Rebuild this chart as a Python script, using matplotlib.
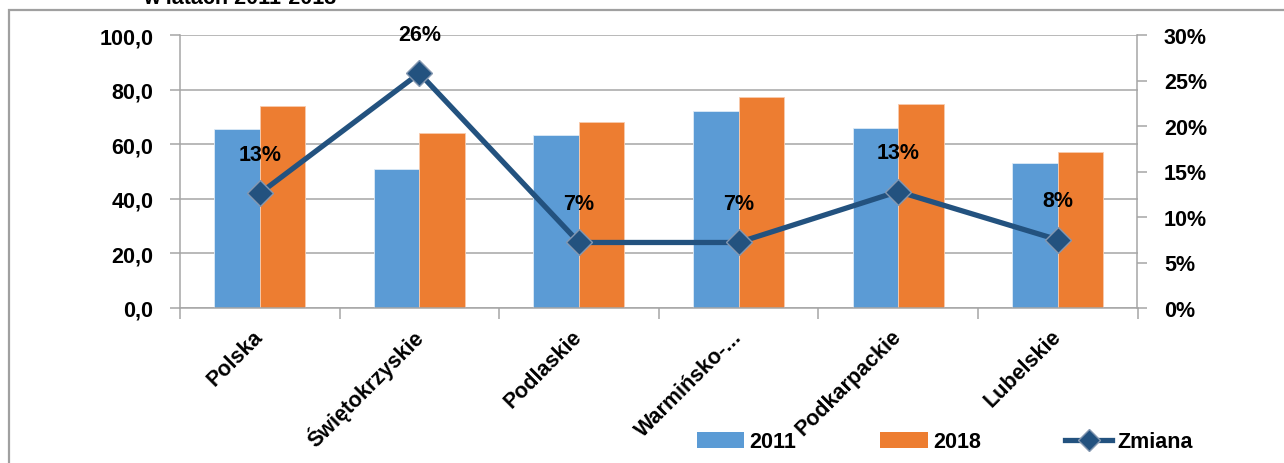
import numpy as np
import matplotlib
matplotlib.use("Agg")
import matplotlib.pyplot as plt
from matplotlib.lines import Line2D
from matplotlib.patches import Patch, Rectangle

regions = ["Polska", "Świętokrzyskie", "Podlaskie", "Warmińsko-...", "Podkarpackie", "Lubelskie"]
v2011 = [65.6, 50.9, 63.5, 72.0, 66.0, 53.1]
v2018 = [74.0, 64.1, 68.1, 77.2, 74.6, 57.3]
change = [0.126, 0.258, 0.072, 0.072, 0.128, 0.075]
change_labels = ["13%", "26%", "7%", "7%", "13%", "8%"]

left_ticks = [0, 20, 40, 60, 80, 100]
right_ticks = [0, 0.05, 0.10, 0.15, 0.20, 0.25, 0.30]

BLUE = "#5B9BD5"
ORANGE = "#ED7D31"
LINE = "#23527F"
GRID = "#A6A6A6"
FS = 15.5

plt.rcParams['font.family'] = ['Liberation Sans', 'DejaVu Sans']
plt.rcParams['font.weight'] = 'bold'

W, H = 1284, 464
fig = plt.figure(figsize=(W / 100, H / 100), dpi=100)
ax = fig.add_axes([180 / W, 1 - 309 / H, (1137.5 - 180) / W, (309 - 36) / H])

# outer frame of the chart area (partially off the image)
fig.patches.append(Rectangle((9 / W, -0.1), 1.2, 1 - 11 / H + 0.1, transform=fig.transFigure,
                             fill=False, edgecolor="#A0A0A0", linewidth=1.6))
fig.text(143 / W, 1 - 4 / H, "w latach 2011-2018", fontsize=FS, fontweight='bold',
         va='baseline', ha='left')

x = np.arange(len(regions))
bw = 0.285
ax.bar(x - bw / 2, v2011, bw, color=BLUE, edgecolor="#DDEBF7", linewidth=0.6, zorder=2)
ax.bar(x + bw / 2, v2018, bw, color=ORANGE, edgecolor="#F8CBAD", linewidth=0.6, zorder=2)

ax.set_xlim(-0.5, len(regions) - 0.5)
ax.set_ylim(0, 100)
ax.set_yticks(left_ticks)
ax.set_yticklabels([f"{t:.1f}".replace(".", ",") for t in left_ticks], fontsize=FS)
ax.yaxis.grid(True, color=GRID, linewidth=1.1, zorder=0)
ax.set_axisbelow(True)

ax.set_xticks(np.arange(-0.5, len(regions) + 0.5, 1.0))
ax.set_xticklabels([])
ax.set_xticks(x, minor=True)
ax.set_xticklabels(regions, minor=True, rotation=45, ha='right', va='center',
                   rotation_mode='anchor', fontsize=FS)
ax.tick_params(axis='x', which='minor', length=0, pad=18)
ax.tick_params(axis='x', which='major', length=8, color=GRID, width=1.1)
ax.tick_params(axis='y', length=7, color=GRID, width=1.1, pad=12)
for s in ['top', 'right']:
    ax.spines[s].set_visible(False)
ax.spines['left'].set_color(GRID)
ax.spines['bottom'].set_color(GRID)
ax.spines['left'].set_linewidth(1.1)
ax.spines['bottom'].set_linewidth(1.1)

ax2 = ax.twinx()
ax2.set_ylim(0, 0.30)
ax2.set_yticks(right_ticks)
ax2.set_yticklabels([f"{round(t * 100)}%" for t in right_ticks], fontsize=FS)
ax2.tick_params(axis='y', length=7, color=GRID, width=1.1, pad=12)
for s in ['top', 'left', 'bottom']:
    ax2.spines[s].set_visible(False)
ax2.spines['right'].set_color(GRID)
ax2.spines['right'].set_linewidth(1.1)

ax2.plot(x, change, color=LINE, linewidth=3.8, marker='D', markersize=13,
         markerfacecolor=LINE, markeredgecolor="#8497B0", markeredgewidth=1.0, zorder=3)
for xi, yi, lab in zip(x, change, change_labels):
    ax2.annotate(lab, (xi, yi), xytext=(0, 28), textcoords='offset points',
                 ha='center', va='center', fontsize=FS, fontweight='bold')

handles = [Patch(facecolor=BLUE, label="2011"),
           Patch(facecolor=ORANGE, label="2018"),
           Line2D([0], [0], color=LINE, linewidth=3.8, marker='D', markersize=11,
                  markerfacecolor=LINE, markeredgecolor="#8497B0", label="Zmiana")]
fig.legend(handles=handles, loc='center', bbox_to_anchor=(945 / W, 1 - 443 / H), ncol=3,
           frameon=False, fontsize=FS, handlelength=2.2, handleheight=0.8,
           columnspacing=3.9, handletextpad=0.25, borderaxespad=0)

fig.savefig("out.png", dpi=100)
